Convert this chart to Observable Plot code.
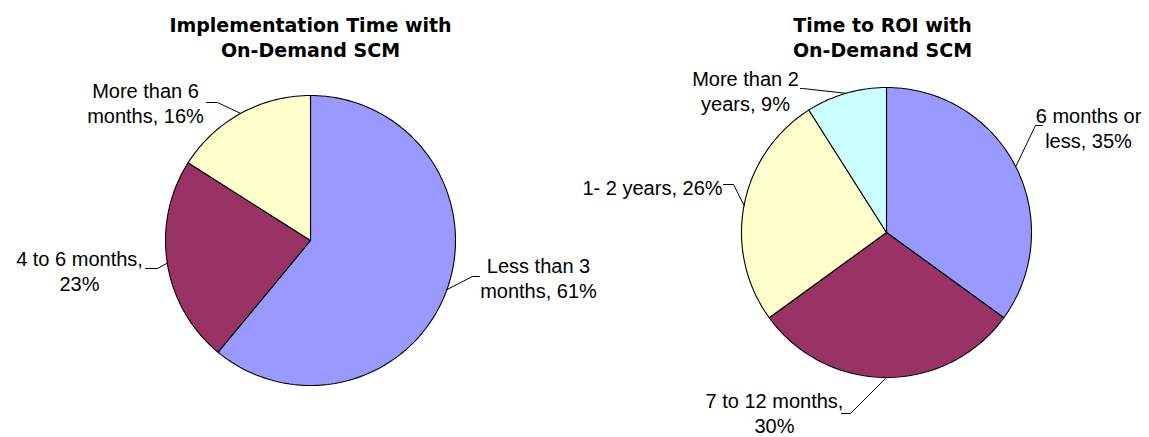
<!DOCTYPE html>
<html>
<head>
<meta charset="utf-8">
<script src="https://cdn.jsdelivr.net/npm/d3@7"></script>
<script src="https://cdn.jsdelivr.net/npm/@observablehq/plot@0.6"></script>
<style>
  html, body { margin: 0; padding: 0; background: #fff; }
</style>
</head>
<body>
<div id="chart"></div>
<script>
// ---- Data ----
const implTitle = ["Implementation Time with", "On-Demand SCM"];
const implCategories = ["Less than 3 months", "4 to 6 months", "More than 6 months"];
const implValues = [61, 23, 16];
const implLabels = ["Less than 3\nmonths, 61%", "4 to 6 months,\n23%", "More than 6\nmonths, 16%"];

const roiTitle = ["Time to ROI with", "On-Demand SCM"];
const roiCategories = ["6 months or less", "7 to 12 months", "1- 2 years", "More than 2 years"];
const roiValues = [35, 30, 26, 9];
const roiLabels = ["6 months or\nless, 35%", "7 to 12 months,\n30%", "1- 2 years, 26%", "More than 2\nyears, 9%"];

// ---- Styles ----
const implColors = ["#9999FF", "#993366", "#FFFFCC"];
const roiColors = ["#9999FF", "#993366", "#FFFFCC", "#CCFFFF"];

// ---- Layout (pixel positions) ----
const W = 1149, H = 437;
const pies = [
  {title: implTitle, cats: implCategories, vals: implValues, labels: implLabels, colors: implColors,
   cx: 310, cy: 240, r: 145, titleX: 310,
   labelPos: [[538, 277], [79, 270], [145, 102]],
   elbows: [[[472, 276], [479, 276]], [[157, 268], [145, 268]], [[217, 102], [206, 102]]]},
  {title: roiTitle, cats: roiCategories, vals: roiValues, labels: roiLabels, colors: roiColors,
   cx: 886, cy: 232, r: 145, titleX: 882,
   labelPos: [[1088, 127], [774, 412], [652, 186], [745, 90]],
   elbows: [[[1035, 125], [1042, 125]], [[850, 413], [841, 413]], [[733, 184], [723, 184]], [[802, 88], [800, 88]]]}
];

const slicePts = [], texts = [], leaders = [], titles = [];
pies.forEach((p, pi) => {
  const arcs = d3.pie().sort(null).value(d => d)(p.vals);
  const pt = (a, rr) => [p.cx + rr * Math.sin(a), p.cy - rr * Math.cos(a)];
  arcs.forEach((a, i) => {
    const key = `${pi}-${i}`;
    const n = Math.max(2, Math.ceil((a.endAngle - a.startAngle) / (2 * Math.PI) * 240));
    slicePts.push({key, color: p.colors[i], x: p.cx, y: p.cy});
    for (let k = 0; k <= n; k++) {
      const ang = a.startAngle + (a.endAngle - a.startAngle) * k / n;
      const [x, y] = pt(ang, p.r);
      slicePts.push({key, color: p.colors[i], x, y});
    }
    slicePts.push({key, color: p.colors[i], x: p.cx, y: p.cy});
    const mid = (a.startAngle + a.endAngle) / 2;
    const [ex, ey] = pt(mid, p.r);
    leaders.push({key, x: ex, y: ey});
    p.elbows[i].forEach(([x, y]) => leaders.push({key, x, y}));
    texts.push({x: p.labelPos[i][0], y: p.labelPos[i][1], text: p.labels[i]});
  });
  p.title.forEach((t, j) => titles.push({x: p.titleX, y: 25 + j * 25, text: t}));
});

const chart = Plot.plot({
  width: W, height: H,
  margin: 0,
  x: {domain: [0, W], axis: null},
  y: {domain: [H, 0], axis: null},
  color: {type: "identity"},
  style: {background: "#fff", overflow: "visible"},
  marks: [
    Plot.line(slicePts, {x: "x", y: "y", z: "key", fill: "color", stroke: "#000", strokeWidth: 1.1, strokeLinejoin: "round"}),
    Plot.line(leaders, {x: "x", y: "y", z: "key", stroke: "#000", strokeWidth: 1}),
    Plot.text(texts, {x: "x", y: "y", text: "text", fontSize: 20, lineHeight: 1.25, textAnchor: "middle",
      lineAnchor: "middle", fill: "#000", fontFamily: "'Liberation Sans', Arial, sans-serif"}),
    Plot.text(titles, {x: "x", y: "y", text: "text", fontSize: 19, fontWeight: "bold", textAnchor: "middle",
      lineAnchor: "middle", fill: "#000", fontFamily: "'DejaVu Sans', sans-serif"})
  ]
});
document.getElementById("chart").appendChild(chart);
</script>
</body>
</html>
